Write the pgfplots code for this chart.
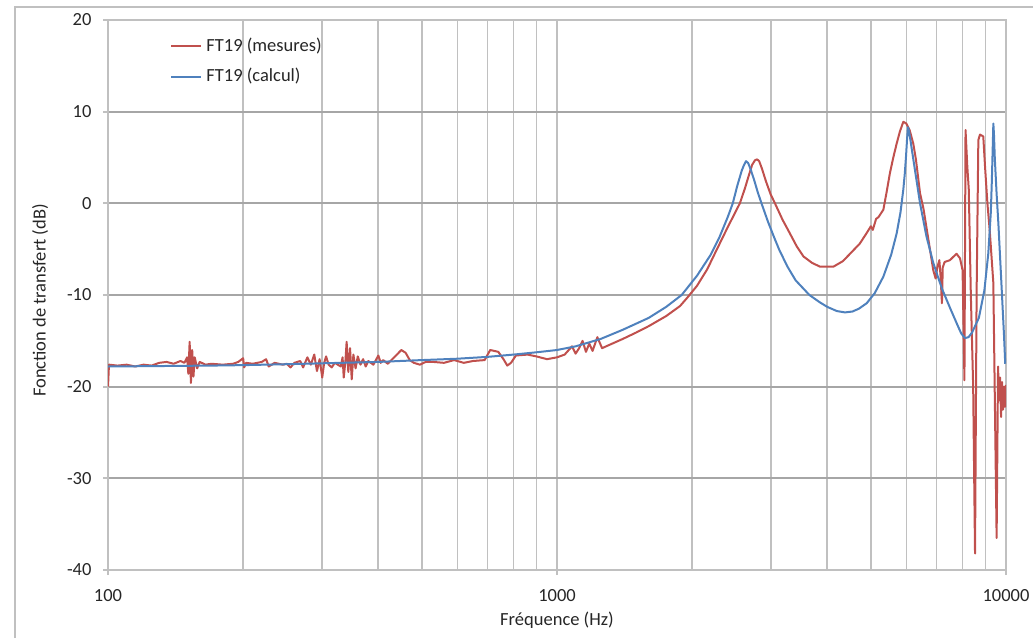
\documentclass[border=0pt]{standalone}
\usepackage{fontspec}
\setmainfont{Carlito}
\usepackage{pgfplots}
\pgfplotsset{compat=1.18}
\definecolor{exred}{HTML}{C0504D}
\definecolor{exblue}{HTML}{4F81BD}
\definecolor{gridc}{HTML}{C0C0C0}
\definecolor{gridy}{HTML}{A6A6A6}
\begin{document}
\fontsize{9.25}{11}\selectfont
\begin{tikzpicture}
\path[use as bounding box] (-54pt,-34pt) rectangle (462.5pt,285pt);
\draw[gridc, line width=0.6pt] (-46.5pt,-34pt) -- (-46.5pt,281.5pt) -- (462.5pt,281.5pt);
\begin{axis}[
  at={(0pt,0pt)}, anchor=south west,
  scale only axis, width=449pt, height=275pt,
  xmode=log, log basis x=10,
  xmin=100, xmax=10000, ymin=-40, ymax=20,
  xtick={100,1000,10000}, xticklabels={100,1000,10000},
  minor xtick={200,300,400,500,600,700,800,900,2000,3000,4000,5000,6000,7000,8000,9000},
  ytick={-40,-30,-20,-10,0,10,20}, yticklabels={-40,-30,-20,-10,0,10,20},
  grid=both,
  major grid style={gridc, line width=0.85pt},
  minor grid style={gridc, line width=0.85pt},
  y grid style={gridy, line width=0.85pt},
  axis line style={gridc, line width=0.85pt},
  tick style={gridc, line width=0.85pt},
  tick align=outside, tick pos=left,
  major tick length=2.5pt, minor tick length=0pt,
  ticklabel style={font=\fontsize{9.25}{11}\selectfont, text=black!85},
  yticklabel style={xshift=-2.5pt},
  xticklabel style={yshift=-4pt},
  xlabel={Fréquence (Hz)},
  ylabel={Fonction de transfert (dB)},
  label style={font=\fontsize{9.25}{11}\selectfont, text=black!85},
  xlabel style={at={(axis description cs:0.5,-0.0909)}, anchor=center},
  ylabel style={at={(axis description cs:-0.0757,0.49)}, anchor=center},
  legend style={draw=none, fill=none, at={(0.069,0.975)}, anchor=north west,
    inner sep=0pt, row sep=3pt, font=\fontsize{9.25}{11}\selectfont, text=black!85},
  legend cell align=left,
  legend image code/.code={\draw[#1] (0pt,0pt) -- (15pt,0pt);},
]
\addplot[exred, line width=1pt, line join=round] table {
100 -20.0
100.5 -17.6
105 -17.7
110 -17.6
115 -17.8
120 -17.6
125 -17.7
130 -17.4
135 -17.3
140 -17.5
145 -17.2
148 -17.4
150 -16.8
151 -18.6
152 -15.1
153 -19.6
154 -16.0
155 -18.9
156 -16.8
158 -18.0
160 -17.3
165 -17.6
170 -17.5
180 -17.6
190 -17.5
195 -17.3
200 -16.9
201 -17.9
203 -17.4
210 -17.5
220 -17.3
225 -17.0
228 -17.8
235 -17.4
245 -17.6
250 -17.5
255 -17.9
260 -17.4
268 -17.2
272 -17.9
278 -16.8
283 -17.6
288 -16.5
292 -18.3
296 -17.0
300 -19.0
303 -17.4
306 -16.7
310 -17.6
315 -17.9
320 -17.4
330 -17.8
333 -16.8
335 -19.0
338 -17.1
340 -15.1
343 -18.4
346 -15.8
349 -19.2
352 -16.5
356 -18.0
360 -16.7
365 -17.6
370 -17.0
375 -17.8
380 -17.2
390 -17.6
400 -16.6
405 -17.4
410 -17.1
420 -17.5
440 -16.5
450 -16.0
460 -16.3
470 -17.1
480 -17.4
495 -17.6
510 -17.3
530 -17.3
560 -17.4
590 -17.1
620 -17.4
650 -17.2
690 -17.1
710 -16.0
740 -16.2
760 -17.0
775 -17.7
790 -17.4
810 -16.6
860 -16.5
900 -16.7
950 -17.0
1000 -16.8
1040 -16.5
1080 -15.6
1100 -16.4
1120 -15.8
1140 -15.0
1160 -16.2
1180 -15.3
1200 -16.1
1230 -14.6
1260 -15.8
1300 -15.5
1400 -14.8
1500 -14.1
1600 -13.4
1750 -12.3
1880 -11.2
1950 -10.3
2050 -9.0
2160 -7.2
2266 -5.1
2400 -2.6
2554 0.0
2620 1.6
2680 3.2
2720 4.2
2760 4.7
2790 4.8
2820 4.6
2860 3.8
2920 2.4
2990 1.0
3058 0.0
3180 -1.8
3303 -3.3
3420 -4.7
3540 -5.8
3700 -6.5
3850 -6.9
4130 -6.9
4334 -6.3
4535 -5.3
4723 -4.4
4900 -3.2
5000 -2.5
5050 -2.9
5136 -1.7
5200 -1.5
5331 -0.7
5420 1.2
5514 3.3
5610 5.0
5707 6.5
5800 7.8
5906 8.9
5999 8.7
6100 8.0
6217 6.5
6300 4.8
6435 1.1
6550 -0.6
6664 -2.9
6780 -5.2
6887 -7.3
6971 -8.2
7030 -7.0
7105 -6.2
7150 -8.0
7200 -10.9
7230 -7.0
7300 -6.4
7500 -6.2
7758 -5.5
7900 -6.0
8003 -7.3
8080 -19.3
8125 8.0
8200 4.0
8262 1.5
8350 -10.0
8450 -20.0
8531 -38.2
8600 -10.0
8677 6.9
8750 7.5
8900 7.3
8980 4.0
9090 0.0
9200 -3.0
9371 -8.7
9530 -36.5
9600 -17.8
9650 -21.5
9700 -19.0
9750 -23.3
9800 -19.5
9850 -22.5
9900 -20.0
9950 -22.2
10000 -19.8
};
\addlegendentry{FT19 (mesures)}
\addplot[exblue, line width=1pt, line join=round] table {
100 -17.8
130 -17.75
170 -17.7
200 -17.65
250 -17.55
300 -17.45
400 -17.3
500 -17.1
600 -16.95
700 -16.75
800 -16.5
900 -16.25
1000 -16.0
1100 -15.6
1250 -14.8
1400 -13.8
1600 -12.5
1750 -11.3
1895 -10.0
2050 -7.9
2200 -5.6
2300 -3.7
2400 -1.5
2463 0.0
2520 1.9
2580 3.6
2610 4.2
2636 4.6
2665 4.4
2700 3.7
2750 2.5
2800 1.2
2854 0.0
2950 -2.0
3050 -3.8
3128 -5.1
3260 -6.9
3400 -8.4
3649 -10.0
3850 -10.8
4000 -11.3
4200 -11.75
4379 -11.9
4550 -11.8
4700 -11.5
4894 -10.9
5100 -9.8
5331 -8.0
5550 -5.6
5707 -3.3
5820 -1.0
5906 1.5
5950 3.2
5990 5.2
6020 7.0
6049 8.3
6080 7.9
6130 6.8
6217 4.8
6330 2.3
6435 0.0
6650 -3.6
6887 -6.5
7200 -9.3
7504 -11.4
7800 -13.3
7950 -14.2
8102 -14.7
8250 -14.6
8400 -14.1
8700 -12.5
8950 -9.5
9130 -5.5
9250 -1.0
9300 2.5
9340 6.0
9371 8.7
9400 7.6
9440 5.0
9530 1.0
9616 -2.2
9750 -8.0
9900 -14.5
9960 -17.5
};
\addlegendentry{FT19 (calcul)}
\end{axis}
\end{tikzpicture}
\end{document}
